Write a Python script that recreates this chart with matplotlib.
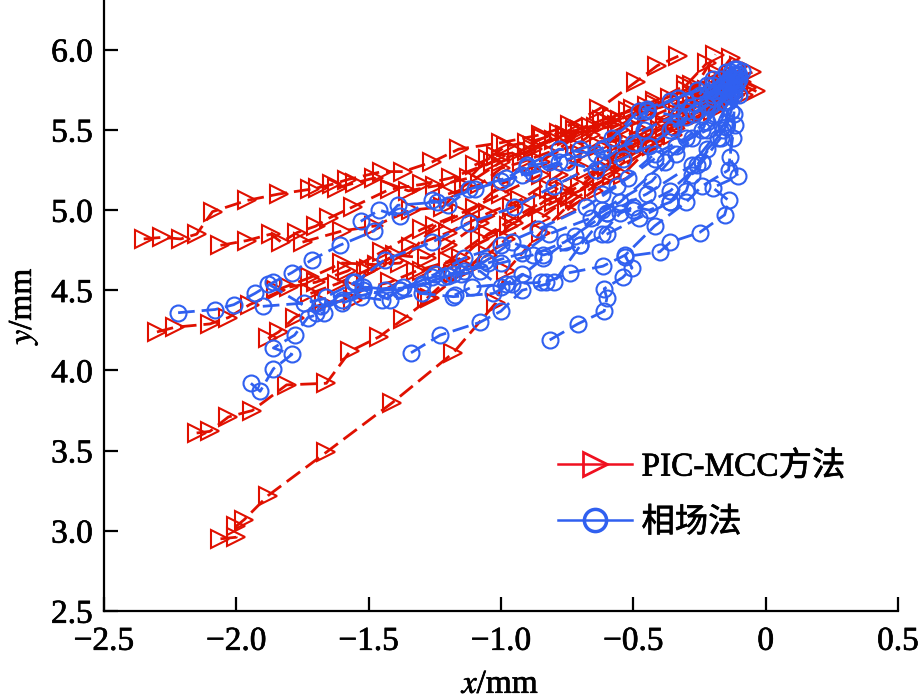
import matplotlib
matplotlib.use("Agg")
import matplotlib.pyplot as plt
import matplotlib.patheffects as pe
from matplotlib.lines import Line2D

plt.rcParams['font.family'] = ['Liberation Serif', 'Noto Sans CJK SC']
plt.rcParams['mathtext.fontset'] = 'stix'

red_color = '#e01000'
blue_color = '#3060f0'

x_ticks = [-2.5, -2, -1.5, -1, -0.5, 0, 0.5]
x_tick_labels = ['\u22122.5', '\u22122.0', '\u22121.5', '\u22121.0', '\u22120.5', '0', '0.5']
y_ticks = [2.5, 3, 3.5, 4, 4.5, 5, 5.5, 6]
y_tick_labels = ['2.5', '3.0', '3.5', '4.0', '4.5', '5.0', '5.5', '6.0']
legend_labels = ['PIC-MCC方法', '相场法']

#red tracks
red_x = [
    [-2.35, -2.28, -2.21, -2.15, -2.09, -1.96, -1.84, -1.72, -1.69, -1.64, -1.58, -1.45, -1.37, -1.26, -1.16, -1.0, -0.85, -0.74, -0.63, -0.49, -0.41, -0.33],
    [-2.06, -2.0, -2.0, -1.97, -1.88, -1.66, -1.41, -1.18, -1.02, -0.98, -0.85, -0.72, -0.58, -0.43, -0.3, -0.19],
    [-2.15, -2.1, -2.03, -1.94, -1.81, -1.66, -1.57, -1.46, -1.37, -1.27, -1.12, -0.97, -0.84, -0.7, -0.55, -0.4, -0.25, -0.13],
    [-2.3, -2.23, -2.1, -2.03, -1.95, -1.8, -1.7, -1.58, -1.45, -1.3, -1.15, -1.0, -0.85, -0.7, -0.55, -0.38, -0.22, -0.05],
    [-2.06, -1.96, -1.87, -1.83, -1.77, -1.7, -1.65, -1.56, -1.42, -1.3, -1.19, -1.03, -0.9, -0.76, -0.62, -0.45, -0.3, -0.18, -0.035],
    [-1.88, -1.84, -1.78, -1.67, -1.56, -1.51, -1.34, -1.2, -1.05, -0.93, -0.78, -0.63, -0.47, -0.33, -0.2, -0.1],
    [-1.28, -1.18, -1.05, -0.98, -0.85, -0.74, -0.6, -0.45, -0.32, -0.18, -0.07],
    [-1.72, -1.62, -1.5, -1.4, -1.28, -1.2, -1.08, -0.96, -0.82, -0.68, -0.53, -0.38, -0.24, -0.1],
    [-1.85, -1.72, -1.6, -1.47, -1.38, -1.25, -1.1, -1.0, -0.85, -0.7, -0.56, -0.42, -0.28, -0.13],
    [-1.55, -1.42, -1.32, -1.2, -1.08, -0.95, -0.8, -0.62, -0.5, -0.35, -0.2, -0.08],
    [-1.75, -1.6, -1.48, -1.34, -1.22, -1.14, -1.0, -0.88, -0.72, -0.55, -0.45, -0.3, -0.15],
    [-1.3, -1.15, -1.05, -0.9, -0.76, -0.6, -0.52, -0.4, -0.25, -0.1],
    [-0.75, -0.65, -0.54, -0.42, -0.3, -0.2, -0.12],
    [-1.62, -1.55, -1.48, -1.35, -1.25, -1.12, -1.05, -0.98, -0.9, -0.84, -0.78, -0.72, -0.66, -0.6, -0.52, -0.42, -0.3, -0.22],
    [-1.1, -1.02, -0.94, -0.88, -0.8, -0.75, -0.7, -0.64, -0.58, -0.5, -0.44, -0.36, -0.28, -0.18, -0.1],
    [-1.2, -1.08, -1.0, -0.92, -0.82, -0.72, -0.66, -0.56, -0.48, -0.38, -0.3, -0.24, -0.16, -0.09],
]
red_y = [
    [4.82, 4.83, 4.82, 4.85, 4.99, 5.06, 5.1, 5.13, 5.14, 5.16, 5.19, 5.24, 5.24, 5.3, 5.38, 5.42, 5.47, 5.53, 5.63, 5.8, 5.9, 5.96],
    [2.95, 2.96, 3.03, 3.07, 3.22, 3.49, 3.8, 4.11, 4.42, 4.62, 4.86, 5.07, 5.22, 5.4, 5.68, 5.97],
    [3.61, 3.62, 3.71, 3.75, 3.91, 3.92, 4.12, 4.21, 4.32, 4.45, 4.64, 4.9, 5.05, 5.15, 5.35, 5.5, 5.7, 5.95],
    [4.24, 4.27, 4.29, 4.33, 4.41, 4.52, 4.55, 4.62, 4.74, 4.88, 4.98, 5.1, 5.22, 5.35, 5.5, 5.62, 5.75, 5.86],
    [4.78, 4.81, 4.85, 4.8, 4.86, 4.9, 4.95, 5.02, 5.13, 5.16, 5.2, 5.3, 5.37, 5.47, 5.56, 5.65, 5.75, 5.85, 5.74],
    [4.2, 4.24, 4.33, 4.42, 4.44, 4.62, 4.77, 4.86, 4.98, 5.06, 5.22, 5.4, 5.5, 5.6, 5.72, 5.8],
    [4.45, 4.6, 4.72, 4.82, 4.95, 5.08, 5.25, 5.42, 5.55, 5.65, 5.76],
    [4.48, 4.54, 4.63, 4.72, 4.7, 4.78, 4.92, 5.02, 5.13, 5.25, 5.38, 5.52, 5.63, 5.78],
    [4.5, 4.58, 4.67, 4.66, 4.67, 4.9, 5.01, 5.16, 5.3, 5.48, 5.53, 5.66, 5.72, 5.85],
    [4.5, 4.55, 4.62, 4.68, 4.82, 4.92, 5.05, 5.18, 5.35, 5.47, 5.62, 5.72],
    [4.8, 4.87, 4.9, 5.0, 5.02, 5.15, 5.3, 5.38, 5.5, 5.56, 5.62, 5.68, 5.8],
    [4.62, 4.7, 4.85, 5.0, 5.12, 5.28, 5.42, 5.55, 5.68, 5.82],
    [5.0, 5.12, 5.22, 5.42, 5.56, 5.68, 5.82],
    [5.14, 5.17, 5.2, 5.12, 5.15, 5.2, 5.32, 5.4, 5.42, 5.45, 5.48, 5.5, 5.52, 5.55, 5.62, 5.68, 5.78, 5.92],
    [5.28, 5.34, 5.36, 5.4, 5.44, 5.46, 5.5, 5.52, 5.58, 5.63, 5.6, 5.7, 5.78, 5.82, 5.9],
    [5.1, 5.16, 5.26, 5.3, 5.36, 5.4, 5.47, 5.42, 5.44, 5.52, 5.58, 5.62, 5.72, 5.8],
]

#blue tracks
blue_x = [
    [-2.22, -2.08, -2.01, -1.93, -1.86, -1.79, -1.715, -1.61, -1.48, -1.39, -1.24, -1.1, -0.92, -0.78, -0.62, -0.48, -0.33, -0.2, -0.12],
    [-1.945, -1.91, -1.86, -1.79, -1.86, -1.78, -1.73, -1.67, -1.66, -1.55, -1.44, -1.26, -1.12, -0.95, -0.8, -0.62, -0.46, -0.3, -0.18, -0.1],
    [-1.9, -1.745, -1.52, -1.37, -1.26, -1.14, -1.0, -0.88, -0.76, -0.6, -0.45, -0.28, -0.15],
    [-1.34, -1.23, -1.08, -1.0, -0.92, -0.8, -0.7, -0.6, -0.48, -0.36, -0.26, -0.16, -0.12],
    [-0.816, -0.71, -0.61, -0.6, -0.61, -0.54, -0.505, -0.53, -0.4, -0.36, -0.25, -0.155, -0.14, -0.2, -0.105, -0.135, -0.125, -0.117, -0.135, -0.13],
    [-1.175, -1.11, -0.98, -0.83, -0.74, -0.615, -0.53, -0.42, -0.3, -0.24, -0.14, -0.12, -0.11],
    [-1.88, -1.7, -1.6, -1.44, -1.3, -1.2, -1.05, -0.92, -0.82, -0.66, -0.55, -0.38, -0.22, -0.12],
    [-1.56, -1.42, -1.3, -1.18, -1.03, -0.96, -0.84, -0.72, -0.62, -0.43, -0.34, -0.24, -0.13],
    [-1.68, -1.52, -1.38, -1.25, -1.14, -1.0, -0.86, -0.68, -0.56, -0.42, -0.3, -0.19, -0.11],
    [-1.18, -1.06, -0.96, -0.84, -0.7, -0.6, -0.5, -0.36, -0.24, -0.17, -0.1],
    [-0.9, -0.78, -0.64, -0.5, -0.45, -0.33, -0.3, -0.2, -0.14, -0.09],
    [-1.0, -0.88, -0.75, -0.64, -0.54, -0.44, -0.36, -0.27, -0.22, -0.16, -0.12],
    [-0.62, -0.55, -0.5, -0.44, -0.36, -0.3, -0.28, -0.24, -0.22, -0.18, -0.15, -0.13, -0.12, -0.12],
    [-0.35, -0.3, -0.26, -0.22, -0.2, -0.18, -0.16, -0.15, -0.14, -0.13, -0.12, -0.11],
    [-0.25, -0.22, -0.2, -0.19, -0.17, -0.15, -0.13, -0.11, -0.1],
    [-1.6, -1.53, -1.45, -1.38, -1.3, -1.22, -1.15, -1.08, -1.0, -0.92, -0.85],
    [-1.53, -1.46, -1.38, -1.26, -1.2, -1.12, -0.98, -0.9, -0.82, -0.7, -0.58, -0.45, -0.36, -0.26],
    [-0.62, -0.52, -0.42, -0.34, -0.28, -0.22, -0.17, -0.14, -0.12, -0.11],
]
blue_y = [
    [4.36, 4.38, 4.41, 4.48, 4.55, 4.61, 4.69, 4.78, 4.87, 5.03, 5.05, 5.13, 5.22, 5.3, 5.38, 5.62, 5.7, 5.78, 5.88],
    [3.92, 3.87, 4.01, 4.1, 4.14, 4.22, 4.33, 4.36, 4.46, 4.55, 4.69, 4.8, 4.92, 5.02, 5.15, 5.3, 5.5, 5.62, 5.75, 5.82],
    [4.4, 4.42, 4.5, 4.52, 4.58, 4.62, 4.67, 4.72, 4.8, 4.98, 5.1, 5.28, 5.55],
    [4.11, 4.22, 4.3, 4.37, 4.5, 4.55, 4.78, 4.85, 4.95, 5.05, 5.28, 5.5, 5.75],
    [4.19, 4.29, 4.37, 4.45, 4.51, 4.58, 4.64, 4.71, 4.74, 4.8, 4.86, 4.97, 5.06, 5.14, 5.21, 5.33, 5.45, 5.53, 5.71, 5.86],
    [4.47, 4.52, 4.54, 4.55, 4.61, 4.65, 4.72, 4.9, 5.05, 5.15, 5.25, 5.6, 5.8],
    [4.54, 4.36, 4.44, 4.5, 4.53, 4.59, 4.67, 4.73, 4.85, 4.95, 5.05, 5.3, 5.55, 5.78],
    [4.55, 4.44, 4.48, 4.46, 4.48, 4.54, 4.7, 4.84, 5.0, 5.18, 5.35, 5.5, 5.82],
    [4.4, 4.52, 4.5, 4.6, 4.7, 4.78, 4.88, 5.02, 5.15, 5.35, 5.45, 5.6, 5.85],
    [4.6, 4.68, 4.8, 4.72, 4.78, 4.98, 5.0, 5.12, 5.3, 5.45, 5.72],
    [5.28, 5.38, 5.35, 5.42, 5.63, 5.58, 5.68, 5.72, 5.8, 5.87],
    [5.18, 5.23, 5.3, 5.25, 5.32, 5.4, 5.5, 5.6, 5.65, 5.78, 5.84],
    [4.85, 4.98, 5.02, 5.0, 5.05, 5.12, 5.22, 5.3, 5.38, 5.45, 5.52, 5.62, 5.72, 5.82],
    [5.52, 5.58, 5.62, 5.66, 5.7, 5.72, 5.74, 5.76, 5.78, 5.8, 5.84, 5.88],
    [5.72, 5.78, 5.82, 5.74, 5.82, 5.86, 5.72, 5.8, 5.84],
    [4.42, 4.46, 4.44, 4.5, 4.54, 4.58, 4.6, 4.62, 4.52, 4.6, 4.55],
    [4.93, 5.0, 4.96, 5.06, 5.03, 5.13, 5.2, 5.27, 5.3, 5.38, 5.45, 5.62, 5.68, 5.75],
    [5.1, 5.2, 5.32, 5.4, 5.45, 5.5, 5.58, 5.68, 5.76, 5.85],
]

fig = plt.figure(figsize=(9.19, 6.98), dpi=100)
ax = fig.add_axes([104/919, 87/698, 794/919, 611/698])

dash = (0, (6, 2.5))
for tx, ty in zip(red_x, red_y):
    ax.plot(tx, ty, color=red_color, lw=2.0, ls=dash, marker='>', ms=13.5, mew=1.5,
            mfc='none', mec=red_color, zorder=2)
for tx, ty in zip(blue_x, blue_y):
    ax.plot(tx, ty, color=blue_color, lw=2.0, ls=dash, marker='o', ms=11.5, mew=1.5,
            mfc='none', mec=blue_color, zorder=3)

ax.set_xlim(-2.5, 0.5)
ax.set_ylim(2.5, 6.31)
ax.spines['top'].set_visible(False)
ax.spines['right'].set_visible(False)
ax.spines['left'].set_linewidth(1.6)
ax.spines['bottom'].set_linewidth(1.6)
ax.set_xticks(x_ticks)
ax.set_xticklabels(x_tick_labels)
ax.set_yticks(y_ticks)
ax.set_yticklabels(y_tick_labels)
ax.tick_params(direction='in', length=10, width=1.6, labelsize=24)
ax.tick_params(axis='x', pad=11)
ax.tick_params(axis='y', pad=8)
ax.set_xlabel(r'$\mathit{x}$/mm', fontsize=24, labelpad=9)
ax.set_ylabel(r'$\mathit{y}$/mm', fontsize=24, labelpad=8)

handles = [
    Line2D([], [], color='#f01020', lw=1.8, marker='>', ms=17, mew=2, mfc='none'),
    Line2D([], [], color=blue_color, lw=1.8, marker='o', ms=16, mew=2.5, mfc='none'),
]
leg = ax.legend(handles, legend_labels, loc='lower left', bbox_to_anchor=(0.572, 0.118), frameon=False,
                fontsize=24, handlelength=2.2, handletextpad=0.3, labelspacing=0.76,
                borderpad=0, borderaxespad=0)

#slightly heavier text, the reference is a scanned print
bold = [pe.withStroke(linewidth=0.5, foreground='black')]
for t in ax.get_xticklabels() + ax.get_yticklabels() + leg.get_texts() + [ax.xaxis.label, ax.yaxis.label]:
    t.set_path_effects(bold)

fig.savefig('out.png', dpi=100)
